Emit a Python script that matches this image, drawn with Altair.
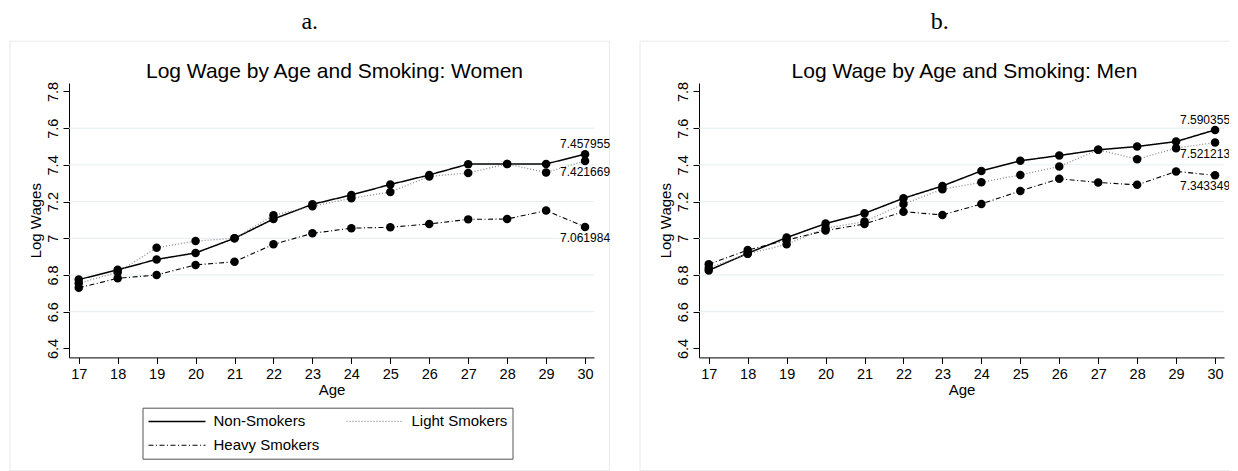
import altair as alt
import pandas as pd

# ---------------- data ----------------
ages = [17, 18, 19, 20, 21, 22, 23, 24, 25, 26, 27, 28, 29, 30]
series_names = ["Non-Smokers", "Light Smokers", "Heavy Smokers"]

women_non = [6.775, 6.828, 6.885, 6.920, 7.000, 7.105, 7.185, 7.236, 7.293, 7.345, 7.404, 7.405, 7.405, 7.457955]
women_light = [6.755, 6.815, 6.948, 6.985, 7.000, 7.125, 7.175, 7.218, 7.252, 7.337, 7.356, 7.405, 7.358, 7.421669]
women_heavy = [6.730, 6.782, 6.800, 6.855, 6.872, 6.967, 7.027, 7.055, 7.060, 7.078, 7.103, 7.105, 7.151, 7.061984]

men_non = [6.825, 6.918, 7.004, 7.080, 7.136, 7.218, 7.285, 7.367, 7.422, 7.451, 7.482, 7.500, 7.527, 7.590355]
men_light = [6.838, 6.915, 6.967, 7.055, 7.091, 7.187, 7.267, 7.305, 7.345, 7.391, 7.482, 7.431, 7.491, 7.521213]
men_heavy = [6.858, 6.936, 6.990, 7.042, 7.078, 7.145, 7.127, 7.187, 7.258, 7.324, 7.304, 7.291, 7.364, 7.343349]

y_ticks = [6.4, 6.6, 6.8, 7.0, 7.2, 7.4, 7.6, 7.8]
grid_vals = [6.6, 6.8, 7.0, 7.2, 7.4, 7.6]
x_ticks = ages

panel_titles = ["Log Wage by Age and Smoking: Women", "Log Wage by Age and Smoking: Men"]
panel_letters = ["a.", "b."]

# ---------------- styling ----------------
SANS = "Liberation Sans"
SERIF = "Liberation Serif"
W, H = 525, 274.4
X_DOMAIN = [16.75, 30.23]
Y_DOMAIN = [6.351, 7.846]


def make_df(non, light, heavy):
    rows = []
    for name, vals in zip(series_names, [non, light, heavy]):
        for a, v in zip(ages, vals):
            rows.append({"age": a, "series": name, "value": v})
    return pd.DataFrame(rows)


def panel(df, title, letter, label_dx):
    x = alt.X("age:Q",
              scale=alt.Scale(domain=X_DOMAIN, nice=False, zero=False),
              axis=alt.Axis(values=x_ticks, title="Age", format="d",
                            labelPadding=4, titlePadding=2))
    y = alt.Y("value:Q",
              scale=alt.Scale(domain=Y_DOMAIN, nice=False, zero=False),
              axis=alt.Axis(values=y_ticks, title="Log Wages", format=".1~f",
                            labelAngle=270, labelAlign="center",
                            labelBaseline="alphabetic", labelPadding=6,
                            titlePadding=2))

    frame = alt.Chart(pd.DataFrame({"f": [0]})).mark_rect(
        fill="transparent", stroke="#e8e8e8", strokeWidth=1
    ).encode(x=alt.value(-59), x2=alt.value(540.5),
             y=alt.value(-41.8), y2=alt.value(387.7))

    grid = alt.Chart(pd.DataFrame({"value": grid_vals})).mark_rule(
        color="#e4edef", strokeWidth=1
    ).encode(y=y)

    legend = alt.Legend(title=None, orient="none", legendX=73.5, legendY=324.7,
                        direction="horizontal", columns=2, columnPadding=24,
                        rowPadding=7, padding=5,
                        strokeColor="#555555", fillColor="white",
                        symbolType="M-1,0H6.6", symbolSize=225,
                        symbolStrokeWidth=1.2, labelFont=SANS,
                        labelFontSize=15, labelOffset=49, labelColor="black")

    base = alt.Chart(df)
    lines = base.mark_line().encode(
        x=x, y=y,
        color=alt.Color("series:N",
                        scale=alt.Scale(domain=series_names,
                                        range=["black", "#8a8a8a", "black"]),
                        legend=legend),
        strokeDash=alt.StrokeDash("series:N",
                                  scale=alt.Scale(domain=series_names,
                                                  range=[[1, 0], [1, 2], [5, 2.5, 1, 2.5]]),
                                  legend=legend),
        strokeWidth=alt.StrokeWidth("series:N",
                                    scale=alt.Scale(domain=series_names,
                                                    range=[1.5, 1.1, 1.1]),
                                    legend=None),
    )
    points = base.mark_circle(color="black", size=72, opacity=1).encode(x=x, y=y)

    lab_up = base.transform_filter(
        (alt.datum.age == 30) & (alt.datum.series == "Non-Smokers")
    ).mark_text(baseline="alphabetic", dy=-6, dx=label_dx, fontSize=12,
                font=SANS, color="black").encode(
        x=x, y=y, text=alt.Text("value:Q", format=".6f"))
    lab_down = base.transform_filter(
        (alt.datum.age == 30) & (alt.datum.series != "Non-Smokers")
    ).mark_text(baseline="top", dy=6, dx=label_dx, fontSize=12, font=SANS,
                color="black").encode(
        x=x, y=y, text=alt.Text("value:Q", format=".6f"))

    layer = alt.layer(frame, grid, lines, points, lab_up, lab_down).properties(
        width=W, height=H,
        title=alt.TitleParams(title, font=SANS, fontSize=21,
                              fontWeight="normal", anchor="middle",
                              frame="group", offset=-41, color="black", dx=3),
    )
    return alt.vconcat(layer, title=alt.TitleParams(
        letter, font=SERIF, fontSize=24, fontWeight="normal",
        anchor="middle", frame="bounds", offset=6, color="black"))


left = panel(make_df(women_non, women_light, women_heavy), panel_titles[0], panel_letters[0], 0)
right = panel(make_df(men_non, men_light, men_heavy), panel_titles[1], panel_letters[1], -10)

chart = alt.hconcat(left, right, spacing=28).properties(
    padding={"left": 1, "top": 2, "right": -12, "bottom": 0}
).configure_view(stroke="transparent").configure_axis(
    grid=False, domainColor="black", tickColor="black", labelColor="black",
    titleColor="black", labelFont=SANS, titleFont=SANS, labelFontSize=14.5,
    titleFontSize=15, titleFontWeight="normal", tickSize=6, domainWidth=1,
    tickWidth=1,
)

chart.save("out.html", embed_options={"renderer": "svg", "actions": False})
